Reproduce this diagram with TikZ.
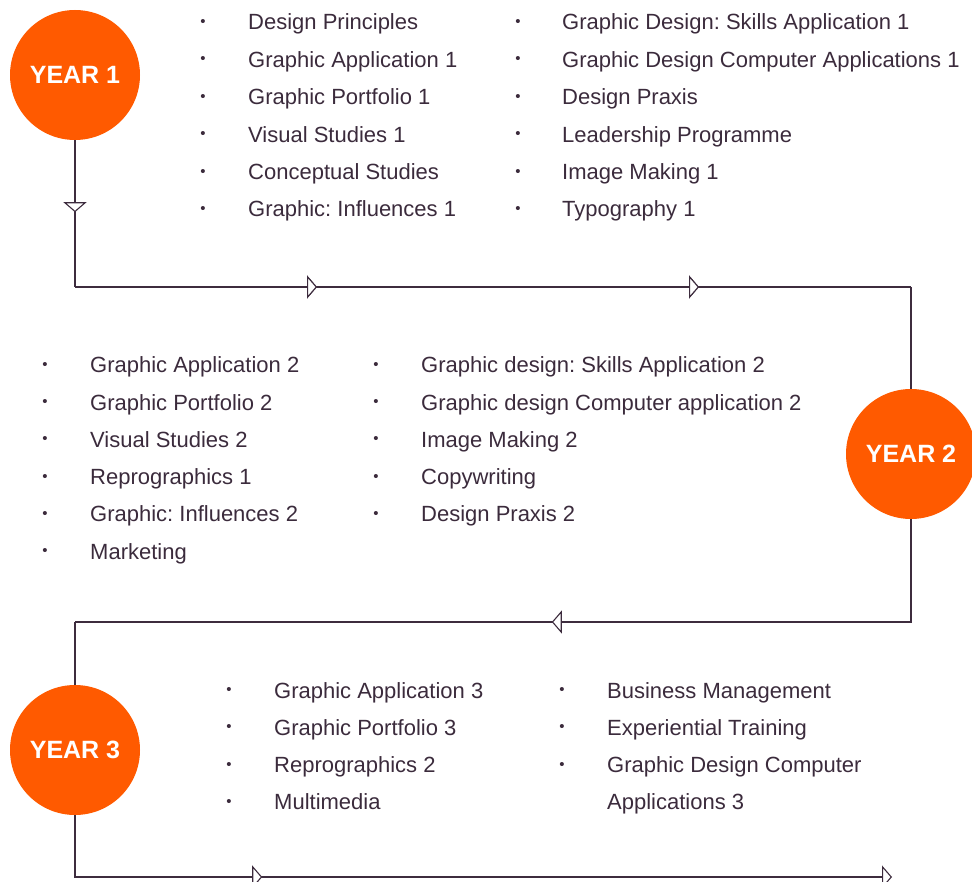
\documentclass[tikz,border=0pt]{standalone}
\usepackage{fontspec}
\setmainfont{Liberation Sans}
\usetikzlibrary{arrows.meta,decorations.markings}
\definecolor{ink}{HTML}{3B2B3C}
\definecolor{lineink}{HTML}{3D2C3E}
\definecolor{yearorange}{HTML}{FF5A00}
\frenchspacing
\tikzset{
  x=1pt, y=-1pt,
  yearcircle/.style={circle, fill=yearorange, minimum size=130pt, inner sep=0pt,
    text=white, font=\fontsize{25}{25}\selectfont\bfseries},
  itemtext/.style={anchor=base west, inner sep=0pt, text=ink, font=\fontsize{22}{24}\selectfont},
  bulletmark/.style={inner sep=0pt, text=ink, font=\fontsize{15}{15}\selectfont},
  flowline/.style={draw=lineink, line width=1.2pt},
  opentri/.tip={Triangle[length=10pt, width=23pt, fill=white, line width=1.1pt]},
  markat/.style={postaction={decorate}, decoration={markings, mark=at position #1 with {\arrow{opentri}}}},
}
\begin{document}
\begin{tikzpicture}
\useasboundingbox (0,0) rectangle (972,882);

% year circles
\node[yearcircle] (y1) at (75,75) {YEAR 1};
\node[yearcircle] (y2) at (911,454) {YEAR 2};
\node[yearcircle] (y3) at (75,750) {YEAR 3};

% corners
\coordinate (k1) at (75,287);
\coordinate (k2) at (911,287);
\coordinate (k3) at (911,622);
\coordinate (k4) at (75,622);
\coordinate (k5) at (75,877);
\coordinate (k6) at (892,877);

% connectors
\draw[flowline, markat=72pt] (y1.south) -- (k1);
\draw[flowline, markat=242pt, markat=624pt] (k1) -- (k2);
\draw[flowline] (k2) -- (y2.north);
\draw[flowline, markat=462pt] (y2.south) -- (k3) -- (k4);
\draw[flowline] (k4) -- (y3.north);
\draw[flowline, markat=249pt, -opentri] (y3.south) -- (k5) -- (k6);

% Year 1 items
\foreach \t [count=\i] in {Design Principles, Graphic Application 1, Graphic Portfolio 1, Visual Studies 1, Conceptual Studies, Graphic: Influences 1} {
  \node[itemtext] (a\i) at (248, {30+37.4*(\i-1)}) {\t};
  \node[bulletmark] (ab\i) at (203, {30+37.4*(\i-1)-7}) {•};
}
\foreach \t [count=\i] in {Graphic Design: Skills Application 1, Graphic Design Computer Applications 1, Design Praxis, Leadership Programme, Image Making 1, Typography 1} {
  \node[itemtext] (b\i) at (562, {30+37.4*(\i-1)}) {\t};
  \node[bulletmark] (bb\i) at (518, {30+37.4*(\i-1)-7}) {•};
}

% Year 2 items
\foreach \t [count=\i] in {Graphic Application 2, Graphic Portfolio 2, Visual Studies 2, Reprographics 1, Graphic: Influences 2, Marketing} {
  \node[itemtext] (c\i) at (90, {373+37.2*(\i-1)}) {\t};
  \node[bulletmark] (cb\i) at (45, {373+37.2*(\i-1)-7}) {•};
}
\foreach \t [count=\i] in {Graphic design: Skills Application 2, Graphic design Computer application 2, Image Making 2, Copywriting, Design Praxis 2} {
  \node[itemtext] (d\i) at (421, {373+37.2*(\i-1)}) {\t};
  \node[bulletmark] (db\i) at (376, {373+37.2*(\i-1)-7}) {•};
}

% Year 3 items
\foreach \t [count=\i] in {Graphic Application 3, Graphic Portfolio 3, Reprographics 2, Multimedia} {
  \node[itemtext] (e\i) at (274, {698+37.3*(\i-1)}) {\t};
  \node[bulletmark] (eb\i) at (229, {698+37.3*(\i-1)-7}) {•};
}
\foreach \t [count=\i] in {Business Management, Experiential Training, Graphic Design Computer} {
  \node[itemtext] (f\i) at (607, {698+37.3*(\i-1)}) {\t};
  \node[bulletmark] (fb\i) at (562, {698+37.3*(\i-1)-7}) {•};
}
\node[itemtext] (f4) at (607, {698+37.3*3}) {Applications 3};
\end{tikzpicture}
\end{document}
